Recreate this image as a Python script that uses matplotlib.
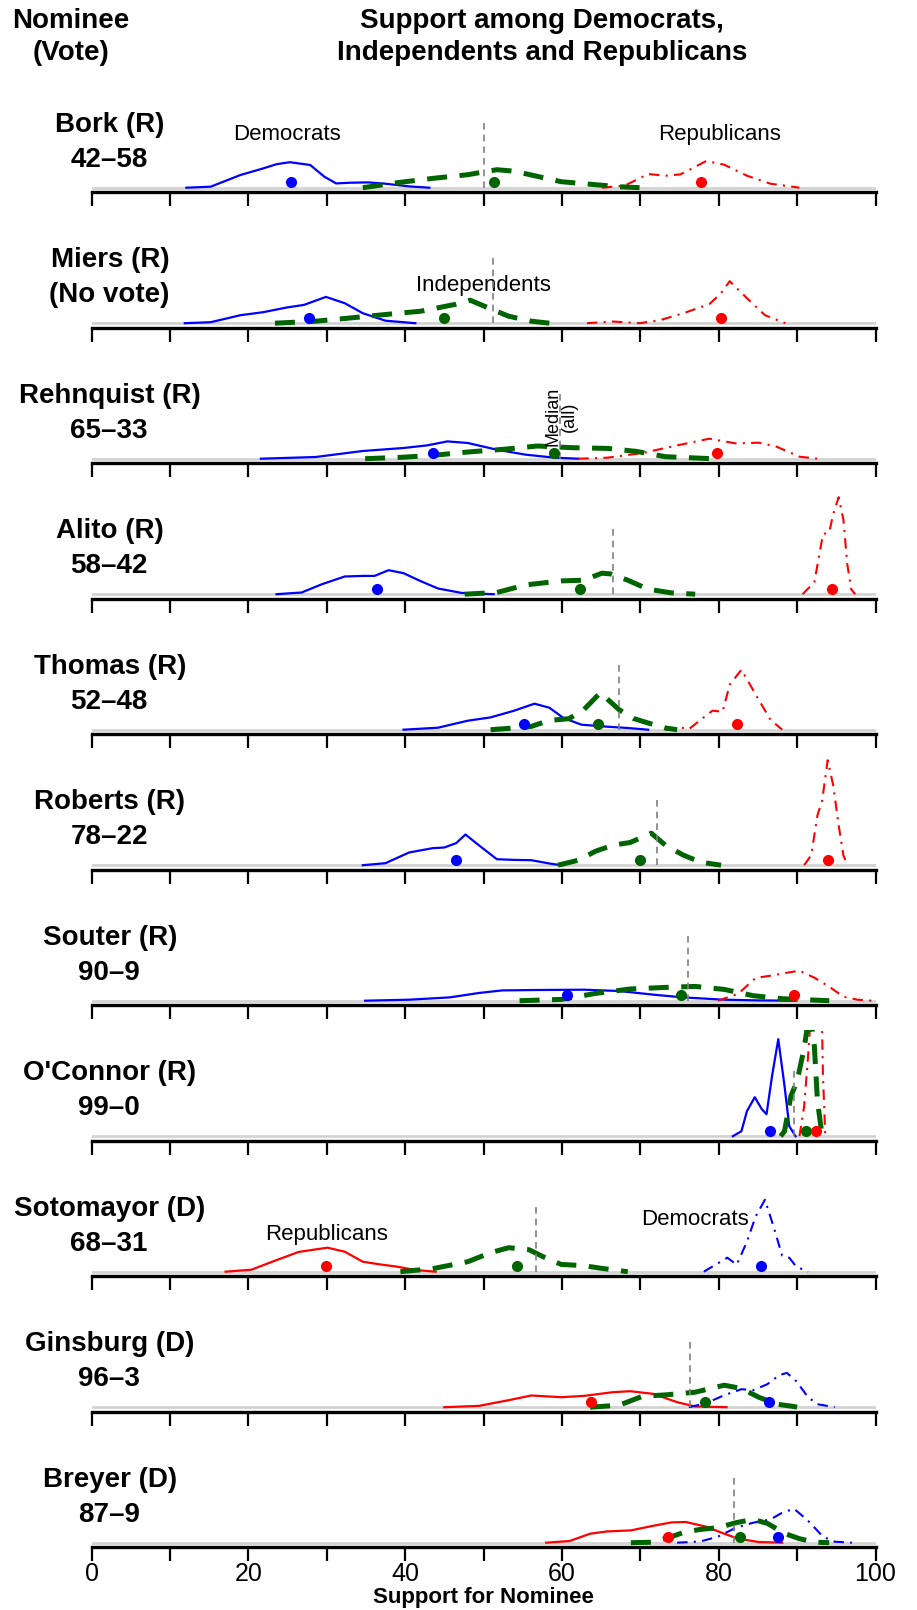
import matplotlib.pyplot as plt

plt.rcParams['font.family'] = ['Liberation Sans', 'DejaVu Sans']

nominees = ["Bork (R)", "Miers (R)", "Rehnquist (R)", "Alito (R)", "Thomas (R)", "Roberts (R)",
            "Souter (R)", "O'Connor (R)", "Sotomayor (D)", "Ginsburg (D)", "Breyer (D)"]
votes = ["42–58", "(No vote)", "65–33", "58–42", "52–48", "78–22", "90–9", "99–0",
         "68–31", "96–3", "87–9"]
party = ["R", "R", "R", "R", "R", "R", "R", "R", "D", "D", "D"]

# median support (all), group means
medians = [50.0, 51.2, 59.7, 66.5, 67.3, 72.1, 76.1, 89.6, 56.7, 76.4, 81.9]
dem_means = [25.5, 27.7, 43.6, 36.4, 55.2, 46.5, 60.7, 86.6, 85.4, 86.4, 87.5]
ind_means = [51.4, 45.0, 59.0, 62.3, 64.6, 70.0, 75.2, 91.1, 54.3, 78.2, 82.7]
rep_means = [77.8, 80.3, 79.8, 94.4, 82.3, 93.9, 89.6, 92.4, 29.9, 63.7, 73.5]

# density curves: (support, height in px above baseline)
dem_curves = {
    "Bork (R)": [(12.1, 0), (15.2, 1), (19.0, 12.7), (21.9, 19.3), (23.6, 23.5), (25.3, 25.5), (27.9, 22.7),
                 (29.7, 11), (31.2, 4.3), (33.1, 5), (35.3, 5.3), (37.5, 4), (40.5, 1.3), (43.1, 0)],
    "Miers (R)": [(11.9, 0), (15.2, 1), (19.0, 8), (21.9, 11), (24.9, 15.7), (27.1, 18.3), (29.9, 26.3),
                  (32.3, 20), (34.6, 10), (37.5, 2.5), (41.3, 0)],
    "Rehnquist (R)": [(21.6, 0), (28.6, 1.7), (34.6, 7.7), (39.8, 10.7), (42.8, 13.3), (45.4, 17.3),
                      (48.0, 15.7), (51.7, 9), (55.4, 4), (59.1, 1), (62.1, 0)],
    "Alito (R)": [(23.6, 0), (26.8, 1.7), (29.4, 10), (32.3, 17.7), (34.6, 18.3), (36.1, 18.3), (37.9, 24),
                  (39.8, 21), (42.0, 13), (44.2, 5.7), (47.2, 1.3), (51.3, 0)],
    "Thomas (R)": [(39.8, 0), (44.2, 2), (48.0, 9), (50.9, 12.3), (53.9, 19), (56.5, 26), (58.4, 22),
                   (60.2, 11.7), (62.5, 5), (65.8, 3), (68.4, 1.7), (71.0, 0)],
    "Roberts (R)": [(34.6, 0), (37.5, 2), (40.5, 12.7), (43.5, 17), (45.0, 17.7), (46.5, 22), (47.7, 30.7),
                    (49.4, 20), (51.7, 6), (53.9, 5.3), (56.1, 5), (58.4, 1.7), (59.9, 0)],
    "Souter (R)": [(34.9, 0), (40.5, 1), (45.7, 3.3), (49.4, 7.7), (52.4, 10.3), (56.9, 10.7), (62.8, 11),
                   (67.3, 9.7), (71.7, 6), (75.5, 3.3), (80.7, 1), (85.1, 0.3), (89.6, 0)],
    "O'Connor (R)": [(81.8, 0), (82.9, 5), (83.6, 25), (84.6, 39), (85.5, 27), (86.1, 22), (86.8, 60),
                     (87.6, 97), (88.4, 50), (89.0, 10), (89.8, 0)],
    "Sotomayor (D)": [(78.1, 0), (79.6, 7), (81.1, 14), (82.3, 7), (83.6, 30), (84.7, 55), (85.9, 72),
                      (87.0, 45), (88.1, 16), (89.0, 14), (89.9, 5), (91.4, 0)],
    "Ginsburg (D)": [(76.2, 0), (78.4, 4), (80.7, 12), (82.9, 18), (84.4, 17), (86.2, 23), (87.7, 32),
                     (88.7, 34.3), (89.9, 26), (91.4, 10), (92.6, 3), (94.8, 0)],
    "Breyer (D)": [(74.7, 0), (77.7, 1.3), (79.9, 6), (82.2, 15), (84.4, 20), (86.6, 23.3), (88.1, 30),
                   (89.6, 34), (91.4, 22), (93.3, 6), (94.8, 1), (97.0, 0)],
}
ind_curves = {
    "Bork (R)": [(34.6, 0), (39.0, 5), (43.5, 9.3), (48.0, 13), (50.2, 16), (51.7, 18), (53.9, 16.5),
                 (56.1, 12.7), (59.9, 6), (64.3, 3), (67.3, 1), (69.9, 0)],
    "Miers (R)": [(23.4, 0), (28.6, 2), (33.1, 5.3), (37.5, 8.7), (42.0, 12), (46.5, 19), (48.3, 23),
                  (50.2, 16.7), (53.2, 7), (56.1, 2), (58.4, 0)],
    "Rehnquist (R)": [(34.9, 0), (39.8, 1.5), (43.5, 3.3), (48.0, 6.7), (52.4, 9.3), (56.9, 12.7),
                      (61.3, 11), (65.8, 10.3), (69.5, 7.3), (73.2, 2), (79.2, 0)],
    "Alito (R)": [(47.6, 0), (51.7, 1.7), (55.4, 9.3), (59.9, 13.3), (62.8, 14), (65.1, 21), (66.2, 20.3),
                  (68.4, 14), (71.0, 5), (74.0, 1.3), (77.0, 0)],
    "Thomas (R)": [(50.9, 0), (53.2, 1.3), (56.1, 3.3), (58.4, 9.3), (60.9, 11), (62.8, 20), (64.9, 37),
                   (67.3, 20), (69.1, 11.3), (71.0, 6.7), (73.2, 1.7), (74.7, 0)],
    "Roberts (R)": [(59.5, 0), (62.1, 5), (64.3, 14), (66.5, 20), (68.7, 22.7), (71.4, 32), (73.2, 20),
                    (75.5, 10), (77.7, 3), (80.3, 0)],
    "Souter (R)": [(54.6, 0), (59.9, 1.3), (64.3, 7.3), (68.7, 11.7), (73.2, 13.3), (77.0, 14.3),
                   (80.7, 11.3), (84.4, 5), (88.1, 2), (94.1, 0)],
    "O'Connor (R)": [(87.9, 0), (88.4, 5), (89.2, 40), (90.0, 55), (90.9, 88), (91.6, 125), (92.2, 90),
                     (92.6, 35), (93.2, 0)],
    "Sotomayor (D)": [(39.4, 0), (43.5, 3), (48.0, 10), (50.9, 19), (53.2, 24), (55.8, 22), (57.6, 15),
                      (59.9, 7.3), (62.8, 6), (65.1, 3.3), (68.4, 0)],
    "Ginsburg (D)": [(63.6, 0), (67.3, 2), (70.3, 11), (73.2, 12.3), (77.0, 15), (80.7, 22), (82.9, 18.7),
                     (85.1, 10), (87.4, 3), (89.6, 0.7), (90.0, 0)],
    "Breyer (D)": [(68.8, 0), (71.7, 0.5), (73.6, 5), (75.8, 11), (77.7, 13.3), (79.9, 15), (82.2, 20),
                   (84.4, 23.3), (86.2, 19.3), (88.5, 9), (90.3, 4), (92.2, 0.5), (94.1, 0)],
}
rep_curves = {
    "Bork (R)": [(65.1, 0), (68.0, 2), (71.0, 13.7), (73.2, 12), (75.1, 13.3), (76.8, 20), (78.4, 26.7),
                 (80.7, 23), (83.6, 12), (86.6, 4), (90.3, 0)],
    "Miers (R)": [(63.2, 0), (66.5, 1.7), (69.9, 0), (72.5, 3), (75.5, 10), (78.8, 19), (80.3, 30),
                  (81.4, 42), (83.6, 25), (85.9, 8), (88.5, 0)],
    "Rehnquist (R)": [(62.1, 0), (65.8, 1), (70.3, 5.7), (74.7, 13.3), (78.8, 20), (82.2, 15.3), (85.1, 16),
                      (87.4, 12), (90.3, 2), (92.6, 0)],
    "Alito (R)": [(90.7, 0), (92.2, 12), (93.3, 60), (94.1, 62), (94.6, 80), (95.3, 97), (95.9, 75),
                  (96.4, 30), (96.9, 5), (97.4, 0)],
    "Thomas (R)": [(73.2, 0), (75.1, 2.3), (76.2, 0.5), (77.7, 10), (79.2, 19), (80.5, 18), (81.4, 45),
                   (82.9, 60), (84.0, 45), (85.1, 30), (86.6, 10), (88.1, 0)],
    "Roberts (R)": [(90.9, 0), (91.8, 10), (92.6, 50), (93.2, 65), (93.9, 105), (94.6, 80), (95.3, 40),
                    (95.9, 10), (96.4, 0)],
    "Souter (R)": [(79.9, 0), (82.5, 7), (84.7, 22.7), (86.6, 25), (88.5, 27.7), (90.3, 30), (92.2, 23),
                   (94.1, 14), (95.9, 4), (97.7, 1), (99.6, 0)],
    "O'Connor (R)": [(90.3, 0), (90.9, 30), (91.4, 80), (91.9, 140), (92.6, 160), (93.1, 140), (93.3, 60),
                     (93.6, 0)],
    "Sotomayor (D)": [(17.1, 0), (20.4, 2), (23.4, 11), (26.4, 19.7), (28.6, 22.3), (30.1, 24), (32.3, 20),
                      (34.6, 10), (36.8, 7.3), (39.0, 5), (41.3, 1.7), (43.9, 0)],
    "Ginsburg (D)": [(45.0, 0), (49.4, 1.3), (53.2, 7), (56.1, 11.7), (59.9, 10), (62.8, 11.3), (66.5, 15),
                     (68.7, 16), (71.7, 13.3), (74.7, 5), (77.0, 0.7), (81.0, 0)],
    "Breyer (D)": [(58.0, 0), (61.0, 1.7), (63.6, 9), (65.8, 11.3), (68.8, 12.3), (71.7, 17), (74.0, 20.3),
                   (75.8, 20.7), (78.4, 16), (80.7, 9), (82.5, 4), (85.1, 0.7), (88.1, 0)],
}

BLUE, RED, GREEN = '#0000FF', '#FF0000', '#006400'
SOLID = dict(lw=1.6, ls='-', solid_joinstyle='round')
DASHDOT = dict(lw=1.5, ls=(0, (5, 3, 1, 3)), dash_joinstyle='round')
DASHED = dict(lw=3.6, ls=(0, (4, 2.5)), color=GREEN, dash_joinstyle='round')

W, H = 917, 1610
fig = plt.figure(figsize=(W / 100, H / 100), dpi=100)
x0, x1 = 91.5, 875.5          # pixel position of 0 and 100
base0, step = 187.7, 135.5    # grey baseline of first panel, panel spacing
off, top = 4.5, 106


def fy(px):
    return 1 - px / H


for i, name in enumerate(nominees):
    b = base0 + i * step
    ax = fig.add_axes([x0 / W, fy(b + off), (x1 - x0) / W, (top + off) / H])
    ax.patch.set_visible(False)
    ax.set_xlim(0, 100)
    ax.set_ylim(-off, top)
    for s in ['top', 'left', 'right']:
        ax.spines[s].set_visible(False)
    ax.spines['bottom'].set_linewidth(2.4)
    ax.set_yticks([])
    ax.set_xticks(range(0, 101, 10))
    ax.tick_params(axis='x', direction='out', length=10, width=1.6, labelsize=18, pad=1)
    if i == len(nominees) - 1:
        ax.set_xticklabels([str(v) if v % 20 == 0 else '' for v in range(0, 101, 10)])
    else:
        ax.tick_params(axis='x', labelbottom=False)

    ax.plot([0, 100], [0, 0], color='#D3D3D3', lw=2, zorder=1)

    dem = dem_curves[name]
    ind = ind_curves[name]
    rep = rep_curves[name]
    if party[i] == "R":
        ax.plot([p[0] for p in dem], [p[1] for p in dem], color=BLUE, **SOLID, zorder=2)
        ax.plot([p[0] for p in ind], [p[1] for p in ind], **DASHED, zorder=3)
        ax.plot([p[0] for p in rep], [p[1] for p in rep], color=RED, **DASHDOT, zorder=2)
    else:
        ax.plot([p[0] for p in rep], [p[1] for p in rep], color=RED, **SOLID, zorder=2)
        ax.plot([p[0] for p in ind], [p[1] for p in ind], **DASHED, zorder=3)
        ax.plot([p[0] for p in dem], [p[1] for p in dem], color=BLUE, **DASHDOT, zorder=2)

    ax.plot([medians[i], medians[i]], [0, 70], color='#808080', lw=1.2, ls=(0, (4, 3)), zorder=4)

    ax.plot(dem_means[i], 5.5, 'o', color=BLUE, ms=7, zorder=5, clip_on=False)
    ax.plot(ind_means[i], 5.5, 'o', color=GREEN, ms=7, zorder=5, clip_on=False)
    ax.plot(rep_means[i], 5.5, 'o', color=RED, ms=7, zorder=5, clip_on=False)

    fig.text(110 / W, fy(b - 56), name, ha='center', va='baseline', fontsize=20, fontweight='bold')
    fig.text(109 / W, fy(b - 21), votes[i], ha='center', va='baseline', fontsize=20, fontweight='bold')

    if name == "Bork (R)":
        ax.text(24.9, 48, "Democrats", ha='center', va='baseline', fontsize=16)
        ax.text(80.1, 48, "Republicans", ha='center', va='baseline', fontsize=16)
    if name == "Miers (R)":
        ax.text(50.0, 32, "Independents", ha='center', va='baseline', fontsize=16)
    if name == "Rehnquist (R)":
        ax.text(59.85, 42, "Median\n(all)", rotation=90, ha='center', va='center', fontsize=13,
                linespacing=0.95)
    if name == "Sotomayor (D)":
        ax.text(30.0, 32, "Republicans", ha='center', va='baseline', fontsize=16)
        ax.text(77.0, 47, "Democrats", ha='center', va='baseline', fontsize=16)

fig.text(71 / W, fy(28), "Nominee", ha='center', va='baseline', fontsize=20, fontweight='bold')
fig.text(71 / W, fy(60), "(Vote)", ha='center', va='baseline', fontsize=20, fontweight='bold')
fig.text(542 / W, fy(28), "Support among Democrats,", ha='center', va='baseline', fontsize=20,
         fontweight='bold')
fig.text(542 / W, fy(60), "Independents and Republicans", ha='center', va='baseline', fontsize=20,
         fontweight='bold')
fig.text((x0 + x1) / 2 / W, fy(1603), "Support for Nominee", ha='center', va='baseline', fontsize=16,
         fontweight='bold')

fig.savefig('out.png', dpi=100, facecolor='white')
